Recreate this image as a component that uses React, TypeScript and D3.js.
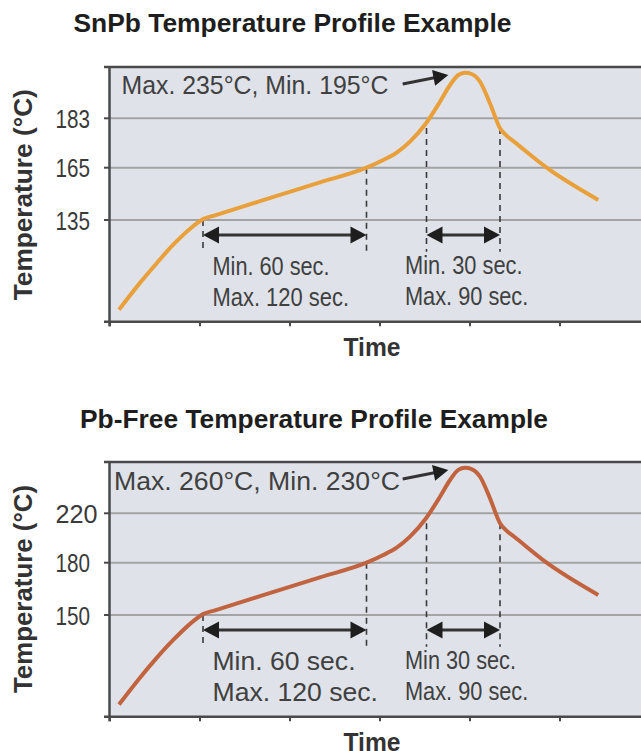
import React from 'react';
import * as d3 from 'd3';

// ---- data (time in s, temperature in °C) ----
const times = [6, 20, 31, 42, 53, 62, 70, 100, 140, 171, 182.2, 191.1, 200, 210.7, 220, 226.7, 232.2, 236.7, 241.1, 246.7, 253.3, 260, 264.5, 268.9, 291.1, 325.5];
const snpbTemps = [38, 67, 88, 108, 125, 135.5, 137.7, 145.8, 156.6, 165, 167.8, 170.5, 174.5, 181.2, 194.8, 206.7, 213.8, 215.4, 214.5, 209, 193.7, 179.4, 176.6, 174.7, 165, 146.5];
const pbFreeTemps = [40, 73, 97, 119, 138.5, 150.5, 152.7, 160.8, 171.6, 180, 186.2, 192.2, 201.1, 216, 229.2, 238.5, 244.1, 245.3, 244.6, 240.3, 228.4, 212, 205.8, 201.6, 180, 161.5];

const snpbTicks = [135, 165, 183];
const pbFreeTicks = [150, 180, 220];
// schematic (non-linear) temperature axis: stops of the piecewise scale
const snpbStops = [25, 135, 165, 183, 215];
const pbFreeStops = [25, 150, 180, 220, 245];

const timeTicks = [0, 60, 120, 180, 240, 300, 360];
const soakWindow = [62, 171];
const reflowWindow = [211, 260];
const snpbWindowTemps = [135, 165, 179.5];
const pbFreeWindowTemps = [150, 180, 212];

const snpbTitle = 'SnPb Temperature Profile Example';
const pbFreeTitle = 'Pb-Free Temperature Profile Example';
const snpbPeak = 'Max. 235°C, Min. 195°C';
const pbFreePeak = 'Max. 260°C, Min. 230°C';
const snpbSoak = ['Min. 60 sec.', 'Max. 120 sec.'];
const pbFreeSoak = ['Min. 60 sec.', 'Max. 120 sec.'];
const snpbReflow = ['Min. 30 sec.', 'Max. 90 sec.'];
const pbFreeReflow = ['Min 30 sec.', 'Max. 90 sec.'];

const FONT = '"Liberation Sans", Arial, sans-serif';

function head(tx: number, ty: number, ux: number, uy: number, L: number, w: number) {
  const bx = tx - ux * L, by = ty - uy * L;
  const px = -uy, py = ux;
  return `${tx},${ty} ${bx + px * w},${by + py * w} ${bx - px * w},${by - py * w}`;
}

function labelLen(s: string) {
  let n = 0;
  for (const c of s) n += c === '1' ? 6.5 : 14;
  return n;
}

type ChartProps = {
  dy: number; title: string; titleX: number; titleLen: number; titleBase: number;
  temps: number[]; stops: number[]; ticks: number[]; windowTemps: number[]; color: string;
  peak: string; peakX: number; peakLen: number; peakBase: number;
  soak: string[]; soakLens: number[]; reflow: string[]; reflowLens: number[];
  yTitleLen: number; yTitleCenter: number;
};

function Chart(p: ChartProps) {
  const dy = p.dy;
  const left = 109.5, right = 660, top = 67 + dy, bottom = 321.7 + dy;
  const x = d3.scaleLinear().domain([0, 360]).range([110, 650]);
  const y = d3.scaleLinear().domain(p.stops).range([321.7, 220, 167.7, 118.3, 73.3].map(v => v + dy));
  const line = d3.line<number>().x((_, i) => x(times[i])).y(d => y(d)).curve(d3.curveMonotoneX);
  const dashBottom = 251.7 + dy;
  const arrowY = 235 + dy;
  const textCol = '#404040';
  const dark = '#4a4a4a';
  const hx = 16, hw = 8.5;
  const winTops = [p.windowTemps[0], p.windowTemps[1], p.windowTemps[2], p.windowTemps[2]];
  const winTimes = [soakWindow[0], soakWindow[1], reflowWindow[0], reflowWindow[1]];
  // peak annotation arrow
  const ax1 = 402.7, ay1 = 84 + dy, ax2 = 448.3, ay2 = 75 + dy;
  const alen = Math.hypot(ax2 - ax1, ay2 - ay1);
  const ux = (ax2 - ax1) / alen, uy = (ay2 - ay1) / alen;
  return (
    <g>
      <text x={p.titleX} y={p.titleBase} fontFamily={FONT} fontWeight="bold" fontSize={25} fill="#1e1e1e"
        textLength={p.titleLen} lengthAdjust="spacingAndGlyphs">{p.title}</text>
      <rect x={left} y={top} width={right - left} height={bottom - top} fill="#dfe3e9" />
      {p.ticks.map(t => (
        <g key={t}>
          <line x1={left} x2={right} y1={y(t)} y2={y(t)} stroke="#a3a3a3" strokeWidth={2} />
          <line x1={104} x2={left} y1={y(t)} y2={y(t)} stroke={dark} strokeWidth={2} />
          <text x={55.5} y={y(t) + 9.5} fontFamily={FONT} fontSize={26} fill="#3a3a3a"
            textLength={labelLen(String(t))} lengthAdjust="spacingAndGlyphs">{t}</text>
        </g>
      ))}
      {/* window dashed lines */}
      {winTimes.map((t, i) => (
        <line key={i} x1={x(t)} x2={x(t)} y1={y(winTops[i])} y2={dashBottom} stroke="#3a3a3a"
          strokeWidth={1.6} strokeDasharray="6,5" />
      ))}
      {/* curve */}
      <path d={line(p.temps) || ''} fill="none" stroke={p.color} strokeWidth={4} strokeLinecap="butt" />
      {/* double arrows */}
      {[soakWindow, reflowWindow].map((w, i) => {
        const xa = x(w[0]), xb = x(w[1]);
        return (
          <g key={i}>
            <line x1={xa + hx - 2} x2={xb - hx + 2} y1={arrowY} y2={arrowY} stroke="#333" strokeWidth={3.2} />
            <polygon points={head(xa, arrowY, -1, 0, hx, hw)} fill="#1e1e1e" />
            <polygon points={head(xb, arrowY, 1, 0, hx, hw)} fill="#1e1e1e" />
          </g>
        );
      })}
      {/* peak annotation */}
      <line x1={ax1} y1={ay1} x2={ax2 - ux * 13} y2={ay2 - uy * 13} stroke="#333" strokeWidth={3} />
      <polygon points={head(ax2, ay2, ux, uy, 15, 8)} fill="#1e1e1e" />
      <text x={p.peakX} y={p.peakBase} fontFamily={FONT} fontSize={25} fill={textCol}
        textLength={p.peakLen} lengthAdjust="spacingAndGlyphs">{p.peak}</text>
      {p.soak.map((s, i) => (
        <text key={s} x={212.5} y={[275, 306][i] + dy} fontFamily={FONT} fontSize={25} fill={textCol}
          textLength={p.soakLens[i]} lengthAdjust="spacingAndGlyphs">{s}</text>
      ))}
      {p.reflow.map((s, i) => (
        <text key={s} x={405} y={[273.5, 305][i] + dy} fontFamily={FONT} fontSize={25} fill={textCol}
          textLength={p.reflowLens[i]} lengthAdjust="spacingAndGlyphs">{s}</text>
      ))}
      {/* frame */}
      <line x1={104} x2={right} y1={top} y2={top} stroke={dark} strokeWidth={2.5} />
      <line x1={104} x2={right} y1={bottom} y2={bottom} stroke={dark} strokeWidth={2.5} />
      <line x1={left} x2={left} y1={top - 1} y2={bottom + 4.5} stroke={dark} strokeWidth={2.5} />
      {timeTicks.map(t => (
        <line key={t} x1={x(t)} x2={x(t)} y1={bottom} y2={bottom + 4.5} stroke={dark} strokeWidth={2} />
      ))}
      <text x={372} y={356 + dy} textAnchor="middle" fontFamily={FONT} fontWeight="bold" fontSize={25}
        fill="#333" textLength={57} lengthAdjust="spacingAndGlyphs">Time</text>
      <text transform={`translate(32,${p.yTitleCenter}) rotate(-90)`} textAnchor="middle" fontFamily={FONT}
        fontWeight="bold" fontSize={25} fill="#333" textLength={p.yTitleLen}
        lengthAdjust="spacingAndGlyphs">Temperature (°C)</text>
    </g>
  );
}

export default function App() {
  return (
    <svg width={641} height={751} style={{ position: 'absolute', left: 0, top: 0, background: '#fff' }}>
      <Chart dy={0} title={snpbTitle} titleX={73.5} titleLen={438} titleBase={31.7}
        temps={snpbTemps} stops={snpbStops} ticks={snpbTicks} windowTemps={snpbWindowTemps} color="#e9a03b"
        peak={snpbPeak} peakX={121.5} peakLen={267} peakBase={94.3}
        soak={snpbSoak} soakLens={[117, 136.5]} reflow={snpbReflow} reflowLens={[117.5, 123.3]}
        yTitleLen={211} yTitleCenter={194.7} />
      <Chart dy={395} title={pbFreeTitle} titleX={80} titleLen={468} titleBase={427.5}
        temps={pbFreeTemps} stops={pbFreeStops} ticks={pbFreeTicks} windowTemps={pbFreeWindowTemps} color="#c2633f"
        peak={pbFreePeak} peakX={114} peakLen={286} peakBase={490}
        soak={pbFreeSoak} soakLens={[143, 165.5]} reflow={pbFreeReflow} reflowLens={[111, 123.3]}
        yTitleLen={208} yTitleCenter={589} />
    </svg>
  );
}
